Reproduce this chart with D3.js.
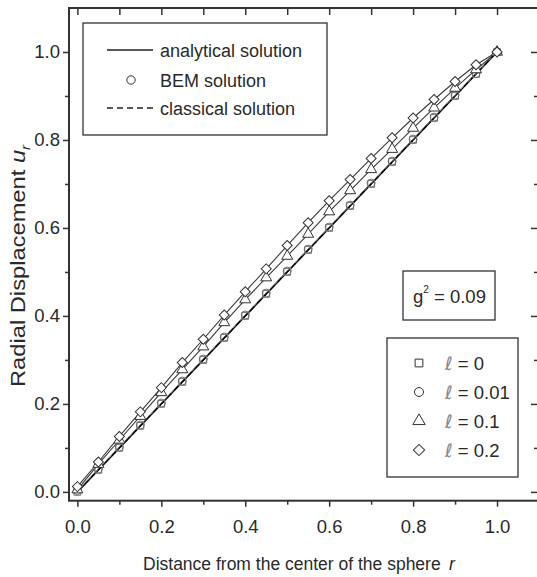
<!DOCTYPE html>
<html>
<head>
<meta charset="utf-8">
<script src="https://cdn.jsdelivr.net/npm/d3@7"></script>
<style>
  body { margin: 0; background: #fff; }
  text { font-family: "Liberation Sans", Arial, sans-serif; fill: #2a2a2a; }
</style>
</head>
<body>
<div id="container"></div>
<script>
// distance from the center r and radial displacement u_r for each l
const rValues = [0, 0.05, 0.1, 0.15, 0.2, 0.25, 0.3, 0.35, 0.4, 0.45, 0.5, 0.55, 0.6, 0.65, 0.7, 0.75, 0.8, 0.85, 0.9, 0.95, 1.0];
const uL0 = [0, 0.05, 0.1, 0.15, 0.2, 0.25, 0.3, 0.35, 0.4, 0.45, 0.5, 0.55, 0.6, 0.65, 0.7, 0.75, 0.8, 0.85, 0.9, 0.95, 1.0];
const uL001 = [0.003, 0.052, 0.102, 0.152, 0.202, 0.252, 0.302, 0.352, 0.402, 0.452, 0.502, 0.552, 0.602, 0.652, 0.702, 0.752, 0.802, 0.852, 0.902, 0.951, 1.0];
const uL01 = [0.005, 0.063, 0.118, 0.172, 0.226, 0.278, 0.33, 0.385, 0.437, 0.487, 0.536, 0.586, 0.637, 0.685, 0.733, 0.779, 0.827, 0.873, 0.918, 0.96, 1.0];
const uL02 = [0.012, 0.068, 0.126, 0.182, 0.237, 0.294, 0.347, 0.402, 0.455, 0.507, 0.56, 0.612, 0.662, 0.71, 0.758, 0.805, 0.85, 0.892, 0.933, 0.971, 1.0];
const uClassical = [0, 0.05, 0.1, 0.15, 0.2, 0.25, 0.3, 0.35, 0.4, 0.45, 0.5, 0.55, 0.6, 0.65, 0.7, 0.75, 0.8, 0.85, 0.9, 0.95, 1.0];

const majorTicks = [0, 0.2, 0.4, 0.6, 0.8, 1.0];
const minorTicks = [0.1, 0.3, 0.5, 0.7, 0.9];
const seriesLabels = ["0", "0.01", "0.1", "0.2"];
const solutionLabels = ["analytical solution", "BEM solution", "classical solution"];

const w = 537;
const h = 577;
const plotLeft = 69, plotRight = 539, plotTop = 8, plotBottom = 500.7;

const xScale = d3.scaleLinear().domain([-0.02, 1.1]).range([plotLeft, plotRight]);
const yScale = d3.scaleLinear().domain([-0.02, 1.1]).range([plotBottom, plotTop]);

const svg = d3.select("#container").append("svg")
  .attr("width", w)
  .attr("height", h);

// marker symbols: square, circle, triangle, diamond
const markers = [
  { sym: d3.symbolSquare, size: 46, rot: 0, stroke: "#7a7a7a", fill: "none" },
  { sym: d3.symbolCircle, size: 50, rot: 0, stroke: "#6a6a6a", fill: "none" },
  { sym: d3.symbolTriangle, size: 52, rot: 0, stroke: "#333", fill: "#fff" },
  { sym: d3.symbolSquare, size: 50, rot: 45, stroke: "#333", fill: "#fff" }
];
const seriesValues = [uL0, uL001, uL01, uL02];

const line = d3.line()
  .x(d => xScale(d[0]))
  .y(d => yScale(d[1]));

// analytical solution lines
const lineStyles = [
  { color: "#111", width: 1.8 },
  { color: "#888", width: 1 },
  { color: "#3a3a3a", width: 1.1 },
  { color: "#3a3a3a", width: 1.1 }
];
seriesValues.forEach((vals, i) => {
  svg.append("path")
    .datum(rValues.map((r, j) => [r, vals[j]]))
    .attr("d", line)
    .attr("fill", "none")
    .attr("stroke", lineStyles[i].color)
    .attr("stroke-width", lineStyles[i].width);
});

// classical solution
svg.append("path")
  .datum(rValues.map((r, j) => [r, uClassical[j]]))
  .attr("d", line)
  .attr("fill", "none")
  .attr("stroke", "#000")
  .attr("stroke-width", 1.2)
  .attr("stroke-dasharray", "6,4");

// BEM markers
seriesValues.forEach((vals, i) => {
  const m = markers[i];
  svg.append("g").selectAll("path")
    .data(rValues.map((r, j) => [r, vals[j]]))
    .enter().append("path")
    .attr("d", d3.symbol().type(m.sym).size(m.size))
    .attr("transform", d => `translate(${xScale(d[0])},${yScale(d[1])}) rotate(${m.rot})`)
    .attr("fill", m.fill)
    .attr("stroke", m.stroke)
    .attr("stroke-width", 1);
});

// axes
function styleAxis(g) {
  g.select(".domain").remove();
  g.selectAll("line").attr("stroke", "#333").attr("stroke-width", 1.5);
  g.selectAll("text").attr("font-size", "18.5px").attr("fill", "#333")
    .attr("font-family", "Liberation Sans, Arial, sans-serif");
}

svg.append("g")
  .attr("transform", `translate(0,${plotBottom})`)
  .call(d3.axisBottom(xScale).tickValues(majorTicks).tickSize(6).tickPadding(13).tickFormat(d3.format(".1f")))
  .call(styleAxis);
svg.append("g")
  .attr("transform", `translate(0,${plotBottom})`)
  .call(d3.axisBottom(xScale).tickValues(minorTicks).tickSize(4).tickFormat(""))
  .call(styleAxis);
svg.append("g")
  .attr("transform", `translate(${plotLeft},0)`)
  .call(d3.axisLeft(yScale).tickValues(majorTicks).tickSize(6).tickPadding(3).tickFormat(d3.format(".1f")))
  .call(styleAxis);
svg.append("g")
  .attr("transform", `translate(${plotLeft},0)`)
  .call(d3.axisLeft(yScale).tickValues(minorTicks).tickSize(4).tickFormat(""))
  .call(styleAxis);
// top and right: ticks pointing inward
svg.append("g")
  .attr("transform", `translate(0,${plotTop})`)
  .call(d3.axisBottom(xScale).tickValues(majorTicks.concat(minorTicks)).tickSize(7).tickFormat(""))
  .call(styleAxis);
svg.append("g")
  .attr("transform", `translate(${plotRight},0)`)
  .call(d3.axisLeft(yScale).tickValues(majorTicks).tickSize(8).tickFormat(""))
  .call(styleAxis);
svg.append("g")
  .attr("transform", `translate(${plotRight},0)`)
  .call(d3.axisLeft(yScale).tickValues(minorTicks).tickSize(5).tickFormat(""))
  .call(styleAxis);

// frame
svg.append("rect")
  .attr("x", plotLeft)
  .attr("y", plotTop)
  .attr("width", plotRight - plotLeft)
  .attr("height", plotBottom - plotTop)
  .attr("fill", "none")
  .attr("stroke", "#333")
  .attr("stroke-width", 2);

// axis titles
svg.append("text")
  .attr("x", 143)
  .attr("y", 570)
  .attr("font-size", "17.5px")
  .text("Distance from the center of the sphere");
svg.append("text")
  .attr("x", 449)
  .attr("y", 570)
  .attr("font-size", "17.5px")
  .attr("font-style", "italic")
  .text("r");

svg.append("text")
  .attr("transform", "translate(25,266) rotate(-90)")
  .attr("text-anchor", "middle")
  .attr("font-size", "21px")
  .attr("textLength", 242)
  .attr("lengthAdjust", "spacingAndGlyphs")
  .html('Radial Displacement <tspan font-style="italic">u</tspan><tspan font-style="italic" font-size="13px" dy="5">r</tspan>');

// legend: solutions
const leg1 = svg.append("g");
leg1.append("rect")
  .attr("x", 83).attr("y", 23).attr("width", 244).attr("height", 112)
  .attr("fill", "#fff").attr("stroke", "#333").attr("stroke-width", 1.3);
const leg1Y = [50, 80, 108];
leg1.append("line")
  .attr("x1", 107).attr("x2", 153).attr("y1", leg1Y[0]).attr("y2", leg1Y[0])
  .attr("stroke", "#222").attr("stroke-width", 1.3);
leg1.append("path")
  .attr("d", d3.symbol().type(d3.symbolCircle).size(55))
  .attr("transform", `translate(131,${leg1Y[1]})`)
  .attr("fill", "none").attr("stroke", "#333").attr("stroke-width", 1);
leg1.append("line")
  .attr("x1", 107).attr("x2", 153).attr("y1", leg1Y[2]).attr("y2", leg1Y[2])
  .attr("stroke", "#222").attr("stroke-width", 1.3).attr("stroke-dasharray", "6,4");
leg1.selectAll("text.lab")
  .data(solutionLabels)
  .enter().append("text")
  .attr("class", "lab")
  .attr("x", 160)
  .attr("y", (d, i) => leg1Y[i] + 6.5)
  .attr("font-size", "18px")
  .text(d => d);

// g^2 box
svg.append("rect")
  .attr("x", 403).attr("y", 271).attr("width", 92).attr("height", 49)
  .attr("fill", "#fff").attr("stroke", "#333").attr("stroke-width", 1.3);
svg.append("text")
  .attr("x", 413).attr("y", 303)
  .attr("font-size", "18.5px")
  .html('g<tspan font-size="10px" dy="-10">2</tspan><tspan dy="10"> = 0.09</tspan>');

// legend: l values
const leg2 = svg.append("g");
leg2.append("rect")
  .attr("x", 387).attr("y", 338).attr("width", 131).attr("height", 139)
  .attr("fill", "#fff").attr("stroke", "#333").attr("stroke-width", 1.3);
const leg2Y = [363, 392, 421, 450];
seriesLabels.forEach((lab, i) => {
  const m = markers[i];
  leg2.append("path")
    .attr("d", d3.symbol().type(m.sym).size(m.size + 14))
    .attr("transform", `translate(419,${leg2Y[i]}) rotate(${m.rot})`)
    .attr("fill", "none")
    .attr("stroke", "#333")
    .attr("stroke-width", 1);
  leg2.append("text")
    .attr("x", 445)
    .attr("y", leg2Y[i] + 6.5)
    .attr("font-size", "18.5px")
    .html(`<tspan font-style="italic" fill="#888" font-family="DejaVu Sans">ℓ</tspan> = ${lab}`);
});
</script>
</body>
</html>
